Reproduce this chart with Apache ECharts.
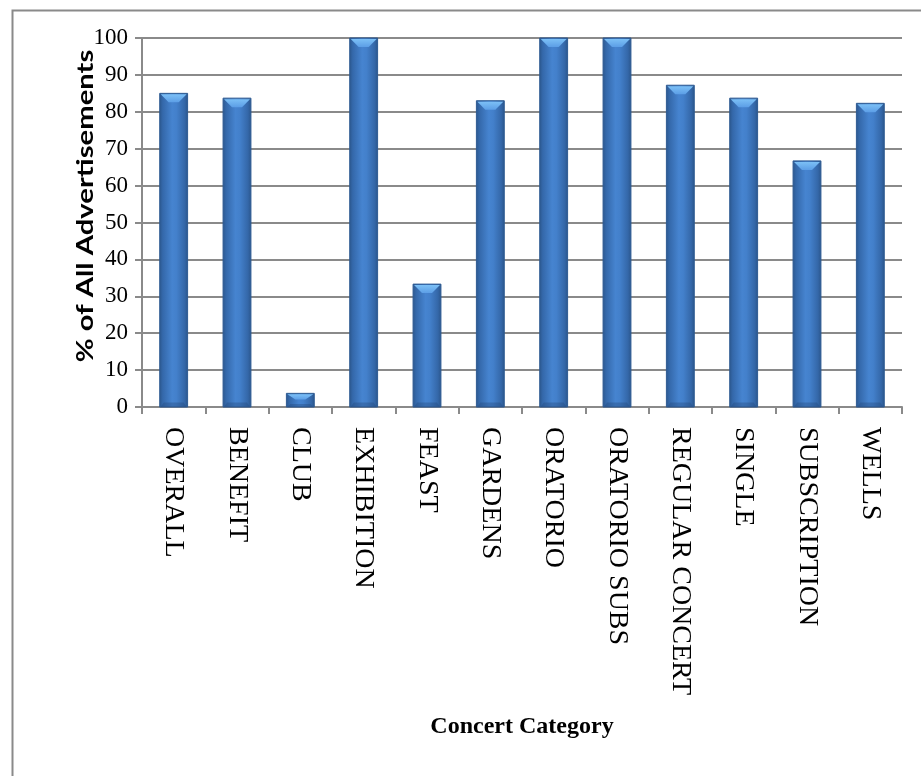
<!DOCTYPE html>
<html>
<head>
<meta charset="utf-8">
<style>
  html, body { margin: 0; padding: 0; background: #ffffff; }
  #chart { width: 921px; height: 776px; }
</style>
<script src="https://cdn.jsdelivr.net/npm/echarts@6/dist/echarts.min.js"></script>
</head>
<body>
<div id="chart"></div>
<script>
// Concert categories and share of advertisements (%)
const categories = ['OVERALL', 'BENEFIT', 'CLUB', 'EXHIBITION', 'FEAST', 'GARDENS',
  'ORATORIO', 'ORATORIO SUBS', 'REGULAR CONCERT', 'SINGLE', 'SUBSCRIPTION', 'WELLS'];
const percentages = [85, 83.7, 3.7, 100, 33.3, 83, 100, 100, 87.2, 83.7, 66.7, 82.3];
const yTicks = [0, 10, 20, 30, 40, 50, 60, 70, 80, 90, 100];
const yTitle = '% of All Advertisements';
const xTitle = 'Concert Category';

const chart = echarts.init(document.getElementById('chart'));

// Beveled column: gradient body, light top facet, darker base facet
function renderColumn(params, api) {
  const idx = api.value(0);
  const val = api.value(1);
  const topPt = api.coord([idx, val]);
  const basePt = api.coord([idx, 0]);
  const bw = api.size([1, 0])[0] * 0.44;
  const x0 = topPt[0] - bw / 2;
  const x1 = topPt[0] + bw / 2;
  const xc = topPt[0];
  const top = topPt[1];
  const bottom = basePt[1];
  const h = bottom - top;
  const bev = Math.min(9, h * 0.45);
  const side = Math.min(4, bw * 0.15);
  const bodyGrad = new echarts.graphic.LinearGradient(0, 0, 1, 0, [
    { offset: 0, color: '#2b568c' },
    { offset: 0.12, color: '#3468aa' },
    { offset: 0.45, color: '#4684d0' },
    { offset: 0.6, color: '#4380cb' },
    { offset: 0.88, color: '#3467a8' },
    { offset: 1, color: '#2a5489' }
  ]);
  const topGrad = new echarts.graphic.LinearGradient(0, 0, 0, 1, [
    { offset: 0, color: '#7cc0f6' },
    { offset: 1, color: '#5c9ee6' }
  ]);
  return {
    type: 'group',
    children: [
      { type: 'rect', shape: { x: x0, y: top, width: bw, height: h },
        style: { fill: bodyGrad, stroke: '#2e5b93', lineWidth: 1 } },
      { type: 'polygon',
        shape: { points: [[x0 + 1, bottom], [x1 - 1, bottom], [x1 - side, bottom - bev * 0.5], [x0 + side, bottom - bev * 0.5]] },
        style: { fill: 'rgba(35,70,118,0.35)' } },
      { type: 'polygon',
        shape: { points: [[x0 + 1, top + 1], [x1 - 1, top + 1], [xc + bw * 0.18, top + bev], [xc - bw * 0.18, top + bev]] },
        style: { fill: topGrad } }
    ]
  };
}

const option = {
  animation: false,
  backgroundColor: '#ffffff',
  graphic: [
    {
      type: 'rect', left: 10, top: 8, z: -1,
      shape: { x: 0, y: 0, width: 1000, height: 1000 },
      style: { fill: 'none', stroke: '#8a8a8a', lineWidth: 2 }
    },
    {
      // vertical axis title, set in a tall bold sans
      type: 'text', x: 86, y: 206, rotation: Math.PI / 2, scaleX: 1.33,
      style: {
        text: yTitle, font: 'bold 22px Lato', fill: '#000',
        align: 'center', verticalAlign: 'middle'
      }
    }
  ],
  grid: { left: 142, right: 19, top: 38, bottom: 369 },
  xAxis: {
    type: 'category',
    data: categories,
    name: xTitle,
    nameLocation: 'middle',
    nameGap: 308,
    nameMoveOverlap: false,
    nameTextStyle: { fontFamily: 'Liberation Serif', fontWeight: 'bold', fontSize: 24, color: '#000' },
    axisLine: { lineStyle: { color: '#8a8a8a', width: 2 } },
    axisTick: { show: true, length: 7, lineStyle: { color: '#8a8a8a', width: 2 } },
    axisLabel: {
      rotate: -90, margin: 20, interval: 0,
      fontFamily: 'Liberation Serif', fontSize: 28, color: '#000'
    }
  },
  yAxis: {
    type: 'value',
    min: 0, max: 100, interval: 10,
    axisLine: { show: true, lineStyle: { color: '#8a8a8a', width: 2 } },
    axisTick: { show: true, length: 7, lineStyle: { color: '#8a8a8a', width: 2 } },
    splitLine: { show: true, lineStyle: { color: '#8a8a8a', width: 2 } },
    axisLabel: {
      margin: 14, fontFamily: 'Liberation Serif', fontSize: 23, color: '#000',
      formatter: v => (yTicks.includes(v) ? String(v) : '')
    }
  },
  series: [{
    type: 'custom',
    renderItem: renderColumn,
    encode: { x: 0, y: 1 },
    data: percentages.map((v, i) => [i, v]),
    z: 3
  }]
};

chart.setOption(option);
</script>
</body>
</html>
